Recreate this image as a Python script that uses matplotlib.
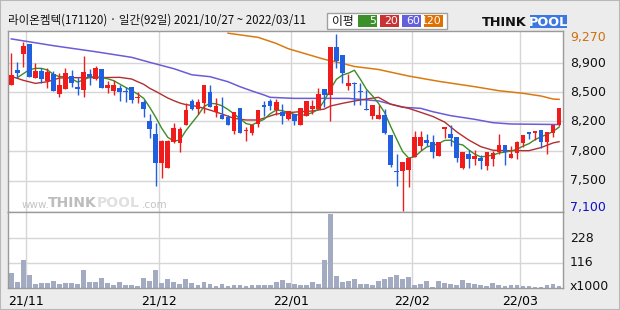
import matplotlib
matplotlib.use('Agg')
import matplotlib.pyplot as plt
import matplotlib.transforms as mtransforms
from matplotlib.patches import Rectangle

plt.rcParams['font.family'] = ['Noto Sans CJK KR', 'DejaVu Sans']

# ---------------- data ----------------
title = '라이온켐텍(171120) · 일간(92일) 2021/10/27 ~ 2022/03/11'
month_labels = ['21/11', '21/12', '22/01', '22/02', '22/03']
month_start_idx = [3, 25, 47, 67, 85]

opens = [8645, 8830, 9025, 9145, 8735, 8815, 8700, 8780, 8530, 8600,
         8755, 8615, 8585, 8780, 8720, 8840, 8610, 8575, 8610, 8575,
         8615, 8485, 8440, 8205, 8050, 7690, 7630, 7950, 7940, 8155,
         8450, 8350, 8430, 8555, 8320, 8275, 8250, 8085, 8360, 8085,
         8060, 8165, 8400, 8450, 8340, 8315, 8230, 8290, 8155, 8270,
         8345, 8350, 8595, 8520, 9105, 9010, 8635, 8675, 8570, 8350,
         8270, 8230, 8275, 8030, 7590, 7595, 7605, 7765, 7895, 7970,
         7945, 7775, 8100, 8045, 8010, 7630, 7800, 7740, 7755, 7655,
         7740, 7825, 7905, 7755, 7815, 7940, 8065, 8055, 8095, 7950,
         8060, 8160]
highs = [9040, 8925, 9175, 9150, 8910, 8850, 8850, 8820, 8790, 8855,
         8830, 8745, 9000, 8840, 8880, 8845, 8700, 8705, 8645, 8625,
         8620, 8555, 8460, 8295, 8175, 7965, 7965, 8175, 8125, 8430,
         8475, 8470, 8645, 8645, 8480, 8495, 8275, 8315, 8360, 8125,
         8155, 8340, 8450, 8475, 8470, 8410, 8325, 8290, 8365, 8450,
         8460, 8605, 8595, 9105, 9270, 9010, 8780, 8685, 8665, 8585,
         8400, 8400, 8350, 8030, 7800, 7695, 7755, 8080, 8080, 8045,
         8030, 7950, 8125, 8155, 8010, 7825, 7850, 7850, 7785, 7825,
         7835, 8050, 7905, 7895, 7960, 8030, 8065, 8080, 8095, 8070,
         8160, 8365]
lows = [8640, 8725, 8870, 8740, 8730, 8665, 8605, 8570, 8500, 8595,
        8625, 8520, 8500, 8645, 8705, 8605, 8550, 8520, 8450, 8440,
        8420, 8430, 8250, 8000, 7405, 7510, 7625, 7930, 7825, 8150,
        8340, 8295, 8305, 8380, 8255, 8230, 8155, 8050, 8060, 7960,
        8030, 8135, 8265, 8340, 8275, 8165, 8215, 8155, 8155, 8270,
        8290, 8350, 8380, 8205, 8850, 8675, 8585, 8400, 8400, 8340,
        8225, 8230, 8040, 7645, 7410, 7100, 7400, 7765, 7850, 7895,
        7755, 7775, 8000, 7895, 7705, 7620, 7630, 7665, 7610, 7605,
        7650, 7805, 7665, 7755, 7740, 7890, 7985, 7970, 7870, 7805,
        8010, 8140]
closes = [8765, 8795, 9125, 8745, 8820, 8720, 8800, 8575, 8645, 8790,
          8675, 8590, 8805, 8740, 8855, 8610, 8645, 8645, 8565, 8555,
          8460, 8495, 8350, 8105, 7690, 7960, 7960, 8115, 8100, 8340,
          8350, 8440, 8645, 8380, 8385, 8230, 8155, 8315, 8060, 8095,
          8155, 8340, 8380, 8385, 8435, 8270, 8325, 8205, 8365, 8450,
          8385, 8535, 8520, 9105, 8945, 8795, 8665, 8655, 8560, 8340,
          8400, 8275, 8060, 7665, 7580, 7695, 7755, 8010, 8010, 7940,
          7825, 7950, 8125, 8000, 7755, 7825, 7740, 7780, 7710, 7825,
          7810, 7905, 7825, 7800, 7945, 8030, 8045, 8075, 7950, 8070,
          8160, 8365]
volumes = [70, 28, 130, 60, 19, 23, 23, 33, 19, 23,
           23, 19, 84, 28, 28, 47, 23, 14, 28, 14,
           14, 9, 47, 33, 84, 23, 42, 28, 19, 42,
           23, 14, 28, 19, 9, 19, 9, 14, 14, 9,
           14, 14, 14, 14, 28, 37, 23, 19, 14, 14,
           28, 19, 130, 340, 56, 28, 33, 42, 19, 19,
           14, 33, 42, 51, 60, 42, 51, 14, 19, 33,
           5, 33, 23, 19, 14, 37, 23, 19, 14, 9,
           23, 14, 9, 14, 14, 9, 9, 5, 5, 14,
           19, 9]

ma5_idx = list(range(1, 92))
ma5_val = [8735, 8784, 8833, 8849, 8849, 8829, 8775, 8747, 8747, 8722,
           8681, 8706, 8743, 8747, 8735, 8722, 8698, 8657, 8616, 8575,
           8534, 8481, 8371, 8248, 8113, 8003, 7958, 7970, 8085, 8180,
           8272, 8380, 8420, 8415, 8390, 8345, 8290, 8232, 8172, 8156,
           8191, 8225, 8292, 8338, 8330, 8310, 8285, 8273, 8281, 8306,
           8346, 8453, 8592, 8714, 8767, 8790, 8826, 8714, 8592, 8512,
           8420, 8310, 8140, 7983, 7830, 7749, 7765, 7830, 7885, 7904,
           7928, 7966, 7968, 7925, 7910, 7850, 7796, 7763, 7774, 7785,
           7812, 7822, 7836, 7856, 7895, 7926, 7975, 8010, 8039, 8076,
           8129]
ma20_idx = [0, 2, 4, 6, 8, 10, 14, 18, 20, 21, 22, 23, 24, 25, 26, 27, 28,
            29, 30, 31, 33, 35, 37, 39, 41, 42, 44, 46, 48, 50, 52, 53, 55,
            57, 59, 61, 63, 66, 68, 70, 72, 73, 74, 76, 78, 80, 82, 84, 86,
            88, 90, 91]
ma20_val = [8751, 8702, 8665, 8685, 8731, 8735, 8735, 8739, 8718, 8685,
            8653, 8604, 8567, 8526, 8485, 8453, 8424, 8404, 8395, 8379,
            8338, 8289, 8236, 8216, 8216, 8240, 8289, 8306, 8318, 8326,
            8350, 8387, 8420, 8449, 8473, 8494, 8410, 8359, 8310, 8260,
            8190, 8130, 8070, 7970, 7889, 7845, 7840, 7840, 7840, 7878,
            7935, 7950]
ma60_idx = [0, 7, 14, 20, 23, 27, 30, 33, 36, 38, 40, 42, 43, 47, 56, 61,
            65, 68, 70, 73, 77, 80, 83, 89, 91]
ma60_val = [9210, 9127, 9053, 8984, 8923, 8845, 8770, 8747, 8685, 8624,
            8571, 8522, 8494, 8481, 8481, 8450, 8372, 8359, 8318, 8269,
            8224, 8183, 8167, 8162, 8160]
ma120_idx = [36, 41, 44, 46, 49, 52, 55, 57, 61, 66, 71, 77, 81, 85, 88,
             90, 91]
ma120_val = [9280, 9229, 9155, 9090, 9025, 8960, 8910, 8872, 8835, 8755,
             8690, 8624, 8575, 8543, 8510, 8473, 8469]

grid_prices = [8910, 8555, 8200, 7835, 7470]
grid_labels = ['8,900', '8,500', '8,200', '7,800', '7,500']
max_label, min_label = '9,270', '7,100'
vol_ticks = [228, 116]
vol_labels = ['228', '116']

# ---------------- styling ----------------
RED = '#f01c1c'
BLUE = '#1f5fe0'
GRID = '#d6d6d6'
W, H = 620, 310


def fx(px):
    return px / W


def fy(py):
    return 1 - py / H


fig = plt.figure(figsize=(6.2, 3.1), dpi=100, facecolor='#ececec')
ax = fig.add_axes([fx(8), fy(212), fx(555), 181 / H])
axv = fig.add_axes([fx(8), fy(288), fx(555), 76 / H], sharex=ax)

for a in (ax, axv):
    a.set_facecolor('white')
    for s in a.spines.values():
        s.set_color('#9a9a9a')
        s.set_linewidth(1)
    for m in month_start_idx:
        a.axvline(m - 0.5, color=GRID, lw=1, zorder=0)

ax.set_xlim(-0.55, 91.65)
ax.set_ylim(7088, 9307)
axv.set_ylim(0, 350)

for g in grid_prices:
    ax.axhline(g, color=GRID, lw=1, zorder=0)
for g in vol_ticks:
    axv.axhline(g, color=GRID, lw=1, zorder=0)

# watermark
fig.text(fx(22), fy(205), 'www.', fontsize=7.5, color='#c4c4c4',
         family='DejaVu Sans', va='center', zorder=1)
fig.text(fx(48), fy(203), 'THINK', fontsize=10, color='#bdbdbd',
         family='DejaVu Sans', weight='bold', va='center', zorder=1)
fig.text(fx(97), fy(203), 'POOL', fontsize=10, color='#e0e0e0',
         family='DejaVu Sans', weight='bold', va='center', zorder=1)
fig.text(fx(142), fy(205), '.com', fontsize=7.5, color='#c4c4c4',
         family='DejaVu Sans', va='center', zorder=1)

# moving averages
ax.plot(ma120_idx, ma120_val, color='#d97a10', lw=1.1, zorder=2)
ax.plot(ma60_idx, ma60_val, color='#6a5cd8', lw=1.1, zorder=2)
ax.plot(ma20_idx, ma20_val, color='#b22f2f', lw=1.0, zorder=2)
ax.plot(ma5_idx, ma5_val, color='#3c8c28', lw=1.0, zorder=2)

# candles
for i, (o, h, l, c) in enumerate(zip(opens, highs, lows, closes)):
    col = RED if c >= o else BLUE
    ax.vlines(i, l, h, color=col, lw=1, zorder=3)
    body = max(abs(c - o), 12)
    ax.bar(i, body, bottom=min(o, c), width=0.78, color=col,
           linewidth=0, zorder=4)

# volume
axv.bar(range(len(volumes)), volumes, width=0.8, color='#a2abc2',
        linewidth=0, zorder=2)

ax.set_yticks([])
axv.set_yticks([])
ax.tick_params(axis='x', length=0, labelbottom=False)
axv.set_xticks([m - 0.5 for m in month_start_idx])
axv.set_xticklabels(month_labels, fontsize=9, family='DejaVu Sans')
axv.tick_params(axis='x', length=0, pad=5)

# right-hand labels
trans = mtransforms.blended_transform_factory(ax.transAxes, ax.transData)
for g, lab in zip(grid_prices, grid_labels):
    ax.text(1.012, g, lab, transform=trans, fontsize=9, va='center',
            ha='left', family='DejaVu Sans', color='#111111')
fig.text(fx(570), fy(38), max_label, fontsize=9, va='center', ha='left',
         family='DejaVu Sans', color='#d07010')
fig.text(fx(570), fy(207), min_label, fontsize=9, va='center', ha='left',
         family='DejaVu Sans', color='#1010c8')
transv = mtransforms.blended_transform_factory(axv.transAxes, axv.transData)
for g, lab in zip(vol_ticks, vol_labels):
    axv.text(1.012, g, lab, transform=transv, fontsize=9, va='center',
             ha='left', family='DejaVu Sans', color='#111111')
fig.text(fx(570), fy(286), 'x1000', fontsize=9, va='center', ha='left',
         family='DejaVu Sans', color='#111111')

# title
fig.text(fx(8), fy(20), title, fontsize=8.3, va='center', ha='left',
         color='#111111')

# legend box
fig.add_artist(Rectangle((fx(327), fy(29)), fx(120), 16 / H,
                         transform=fig.transFigure, facecolor='white',
                         edgecolor='#a0a0a0', lw=1))
fig.text(fx(332), fy(21), '이평', fontsize=8.5, va='center', ha='left',
         color='#111111')
leg = [('5', '#3d8f2a', 358), ('20', '#c83232', 380),
       ('60', '#6460dc', 402), ('120', '#e07000', 424)]
for lab, col, x0 in leg:
    fig.add_artist(Rectangle((fx(x0), fy(27)), fx(19), 12 / H,
                             transform=fig.transFigure, facecolor=col,
                             edgecolor='none'))
    fig.text(fx(x0 + 18), fy(21), lab, fontsize=7.8, va='center',
             ha='right', color='white', family='DejaVu Sans')

# logo
fig.text(fx(482), fy(22), 'THINK', fontsize=9.3, weight='bold',
         family='DejaVu Sans', va='center', ha='left', color='#111111')
fig.add_artist(Rectangle((fx(530), fy(28)), fx(37), 13 / H,
                         transform=fig.transFigure, facecolor='#3d78e0',
                         edgecolor='none'))
fig.text(fx(548.5), fy(22), 'POOL', fontsize=9.3, weight='bold',
         family='DejaVu Sans', va='center', ha='center', color='white')

# outer border
fig.add_artist(Rectangle((0, 0), 1, 1, transform=fig.transFigure,
                         facecolor='none', edgecolor='#b8b8b8', lw=1.5))

fig.savefig('out.png', dpi=100, facecolor=fig.get_facecolor())
